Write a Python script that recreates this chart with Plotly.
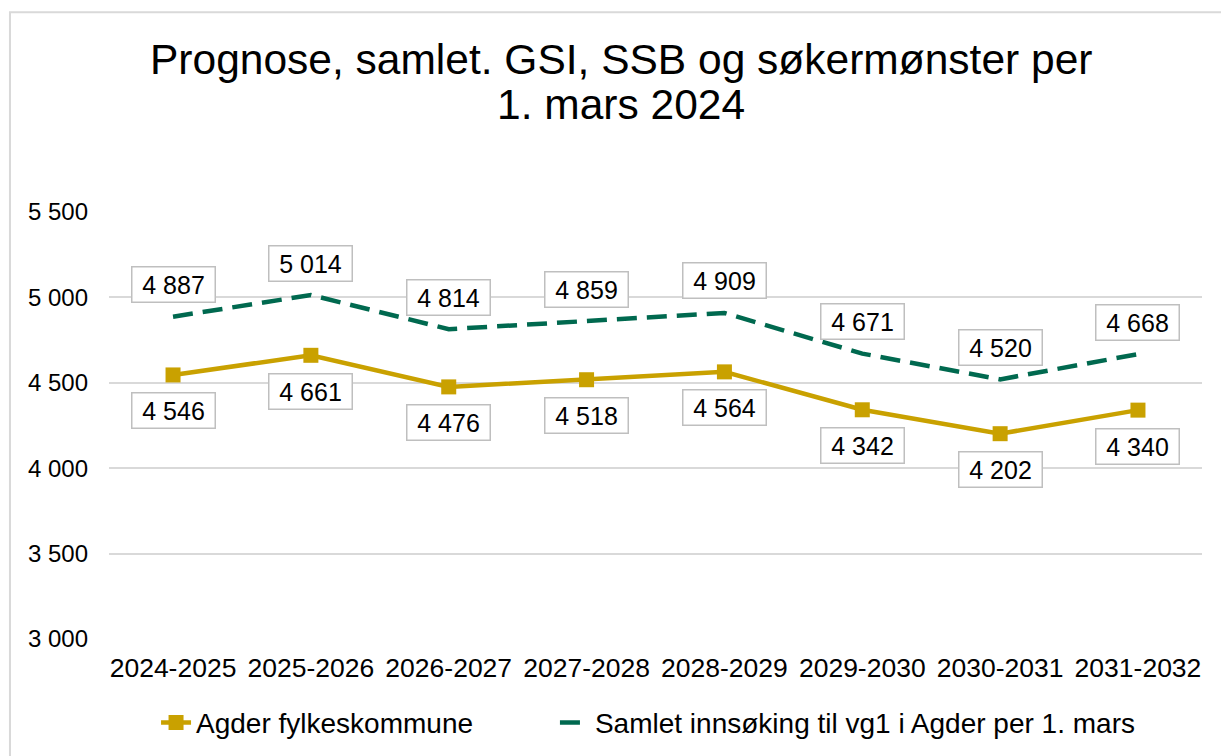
import plotly.graph_objects as go

categories = ["2024-2025", "2025-2026", "2026-2027", "2027-2028", "2028-2029", "2029-2030", "2030-2031", "2031-2032"]
agder = [4546, 4661, 4476, 4518, 4564, 4342, 4202, 4340]
samlet = [4887, 5014, 4814, 4859, 4909, 4671, 4520, 4668]
y_ticks = [3000, 3500, 4000, 4500, 5000, 5500]
title_lines = ["Prognose, samlet. GSI, SSB og søkermønster per", "1. mars 2024"]

GOLD = "#C9A100"
GREEN = "#00694F"

def fmt(v):
    return f"{v:,}".replace(",", " ")

fig = go.Figure()
fig.add_trace(go.Scatter(
    x=categories, y=agder, name="Agder fylkeskommune", mode="lines+markers",
    line=dict(color=GOLD, width=4.5), marker=dict(symbol="square", size=15, color=GOLD),
    legend="legend", showlegend=True))
fig.add_trace(go.Scatter(
    x=categories, y=samlet, name="Samlet innsøking til vg1 i Agder per 1. mars", mode="lines",
    line=dict(color=GREEN, width=4.5, dash="20px,10px"), legend="legend2", showlegend=True))

box = dict(showarrow=False, font=dict(size=25, color="#000"), bgcolor="white",
           bordercolor="#BFBFBF", borderwidth=1.5, borderpad=3, width=76, height=28)
ann = []
for c, v in zip(categories, samlet):
    ann.append(dict(x=c, y=v, xref="x", yref="y", text=fmt(v), yshift=32, **box))
for c, v in zip(categories, agder):
    ann.append(dict(x=c, y=v, xref="x", yref="y", text=fmt(v), yshift=-36, **box))

for txt, yp in zip(title_lines, [1.356, 1.2506]):
    ann.append(dict(x=0.468, y=yp, xref="paper", yref="paper", text=txt, showarrow=False,
                    xanchor="center", yanchor="middle", font=dict(size=42.5, color="#000")))

leg_common = dict(orientation="h", xref="container", yref="container", xanchor="left",
                  y=0.044, yanchor="middle", font=dict(size=28), bgcolor="rgba(0,0,0,0)",
                  visible=True)

fig.update_layout(
    width=1221, height=756,
    showlegend=True,
    paper_bgcolor="white", plot_bgcolor="white",
    font=dict(family="Liberation Sans, Arial, sans-serif", color="#000"),
    margin=dict(l=109, r=19, t=212, b=117, autoexpand=False),
    separators=", ",
    xaxis=dict(showgrid=False, showline=False, ticks="", tickfont=dict(size=26.5),
               ticklabelstandoff=10, automargin=False),
    yaxis=dict(range=[3000, 5500], tickvals=y_ticks, tickformat=",d", showgrid=True,
               gridcolor="#D9D9D9", gridwidth=1.5, zeroline=False, showline=False,
               tickfont=dict(size=24), ticklabelstandoff=20, automargin=False),
    legend=dict(x=0.1278, **leg_common),
    legend2=dict(x=0.4545, **leg_common),
    annotations=ann,
    shapes=[dict(type="rect", xref="paper", yref="paper", x0=-0.0906, x1=1.05, y0=-0.4, y1=1.468,
                 line=dict(color="#D9D9D9", width=2), layer="below")],
)

fig.write_html("out.html", config={"displayModeBar": False},
               post_script="document.body.style.margin='0';")
